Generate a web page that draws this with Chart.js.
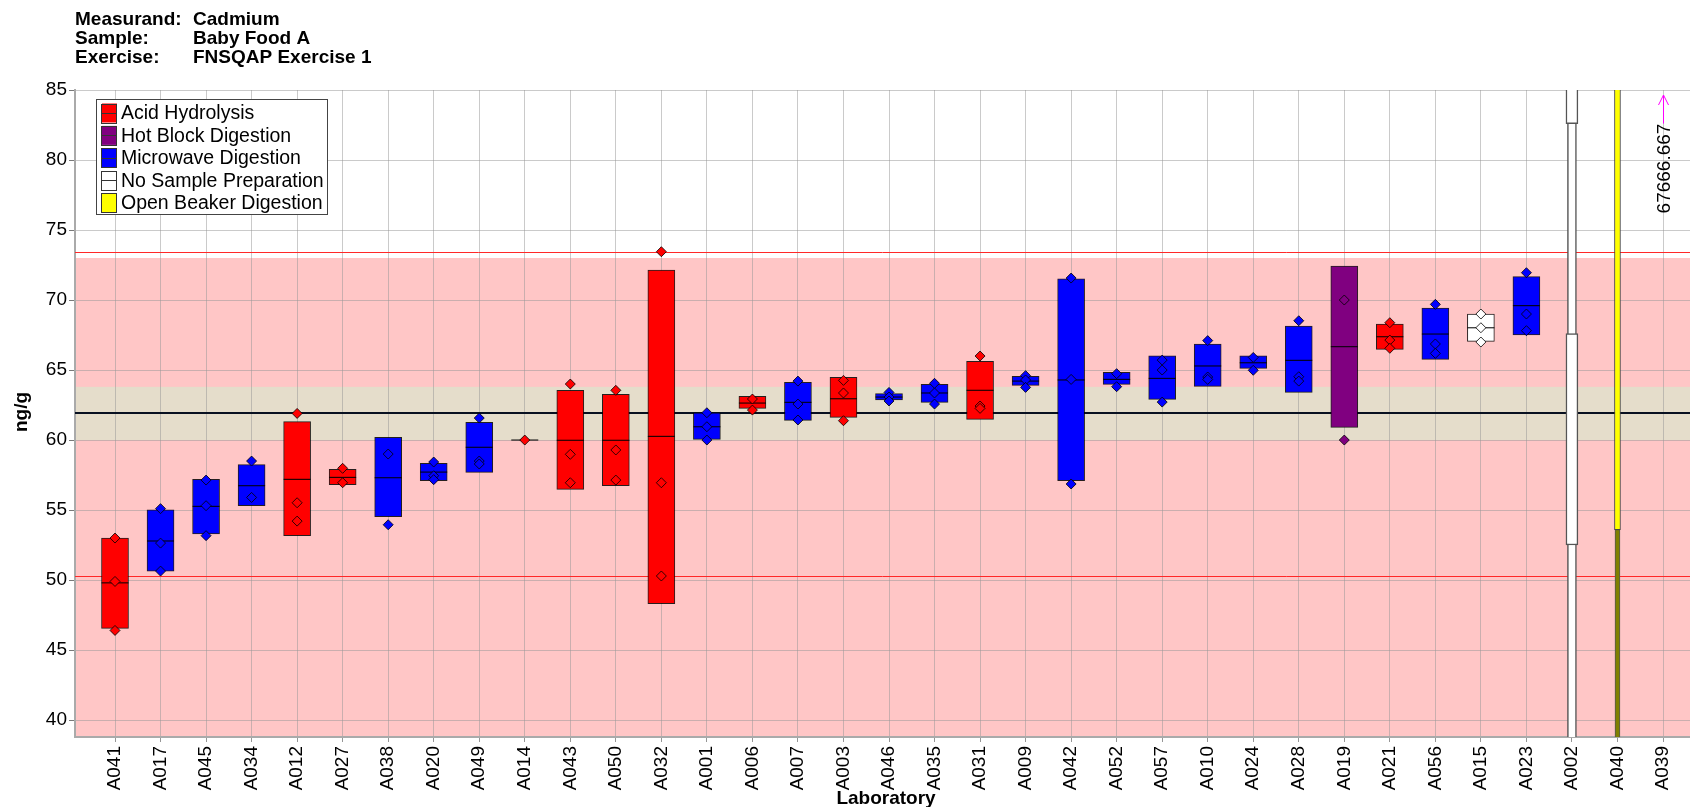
<!DOCTYPE html>
<html>
<head>
<meta charset="utf-8">
<title>Cadmium - Baby Food A</title>
<script src="https://cdn.jsdelivr.net/npm/chart.js@4.4.1/dist/chart.umd.min.js"></script>
<style>
  html, body { margin: 0; padding: 0; background: #fff; overflow: hidden; }
  #labChart { display: block; }
</style>
</head>
<body>
<canvas id="labChart" width="1690" height="807"></canvas>
<script>
///////////////////////////////////////////////////////////////////////
///                           DATA
///////////////////////////////////////////////////////////////////////
const labs = ['A041','A017','A045','A034','A012','A027','A038','A020','A049','A014',
  'A043','A050','A032','A001','A006','A007','A003','A046','A035','A031',
  'A009','A042','A052','A057','A010','A024','A028','A019','A021','A056',
  'A015','A023','A002','A040','A039'];

const methods = ['Acid Hydrolysis','Microwave Digestion','Microwave Digestion','Microwave Digestion','Acid Hydrolysis',
  'Acid Hydrolysis','Microwave Digestion','Microwave Digestion','Microwave Digestion','Acid Hydrolysis',
  'Acid Hydrolysis','Acid Hydrolysis','Acid Hydrolysis','Microwave Digestion','Acid Hydrolysis',
  'Microwave Digestion','Acid Hydrolysis','Microwave Digestion','Microwave Digestion','Acid Hydrolysis',
  'Microwave Digestion','Microwave Digestion','Microwave Digestion','Microwave Digestion','Microwave Digestion',
  'Microwave Digestion','Microwave Digestion','Hot Block Digestion','Acid Hydrolysis','Microwave Digestion',
  'No Sample Preparation','Microwave Digestion','No Sample Preparation','Open Beaker Digestion',null];

const boxLow = [46.55, 50.64, 53.29, 55.31, 53.17, 56.81, 54.52, 57.1, 57.69, 60,
  56.48, 56.74, 48.31, 60.05, 62.26, 61.4, 61.62, 62.86, 62.69, 61.48,
  63.9, 57.09, 63.98, 62.9, 63.83, 65.12, 63.4, 60.9, 66.48, 65.76,
  67.05, 67.5, null, null, null];
const boxHigh = [53.0, 55.02, 57.19, 58.24, 61.31, 57.9, 60.19, 58.33, 61.26, 60,
  63.55, 63.26, 72.14, 61.95, 63.12, 64.12, 64.48, 63.31, 63.98, 65.62,
  64.55, 71.52, 64.83, 66.02, 66.86, 66.02, 68.14, 72.43, 68.29, 69.43,
  69.0, 71.67, null, null, null];
const medians = [49.8, 52.79, 55.26, 56.74, 57.19, 57.33, 57.31, 57.71, 59.48, 60,
  59.98, 59.98, 60.26, 60.95, 62.64, 62.69, 62.95, 63.07, 63.36, 63.55,
  64.21, 64.29, 64.33, 64.4, 65.29, 65.52, 65.69, 66.67, 67.38, 67.57,
  68.02, 69.6, null, null, null];
const results = [
  [53.0, 49.9, 46.4], [55.1, 52.64, 50.64], [57.14, 55.31, 53.17], [58.5, 55.9],
  [61.9, 55.52, 54.21], [57.98, 56.95], [59.0, 53.95], [58.43, 57.45, 57.17],
  [61.57, 58.5, 58.29], [60.0], [64.0, 58.98, 56.95], [63.55, 59.29, 57.14],
  [73.45, 56.95, 50.29], [61.95, 60.95, 60.0], [62.93, 62.14], [64.21, 62.57, 61.43],
  [64.26, 63.36, 61.38], [63.4, 63.07, 62.79], [64.05, 63.36, 62.57], [66.0, 62.43, 62.26],
  [64.6, 64.29, 63.76], [71.57, 64.33, 56.86], [64.74, 63.81], [65.71, 65.0, 62.71],
  [67.1, 64.5, 64.33], [65.9, 64.98], [68.52, 64.52, 64.21], [70.0, 60.0],
  [68.38, 67.14, 66.55], [69.69, 66.86, 66.19], [69.0, 68.02, 67.0], [71.95, 69.0, 67.81],
  [], [], []
];

// labs whose results run off the plotted range
const a002Box = [30, 100];
const a002Wide = [[52.5, 67.6], [82.6, 100]];
const a040Upper = [53.6, 100];
const a040Lower = [30, 53.6];
const offScaleLab = 'A039';
const offScaleValue = '67666.667';

// reference lines
const assignedValue = 61.9;
const tanBand = [60.0, 63.8];
const pinkTop = 73.0;
const limitLines = [50.29, 73.45];

const yTicks = [40, 45, 50, 55, 60, 65, 70, 75, 80, 85];
const yMin = 38.79, yMax = 85;
const xMin = -0.8786, xMax = 34.593;

const methodNames = ['Acid Hydrolysis','Hot Block Digestion','Microwave Digestion','No Sample Preparation','Open Beaker Digestion'];
const methodColors = {
  'Acid Hydrolysis': 'rgb(255,0,0)',
  'Hot Block Digestion': 'rgb(128,0,128)',
  'Microwave Digestion': 'rgb(0,0,255)',
  'No Sample Preparation': 'rgb(255,255,255)',
  'Open Beaker Digestion': 'rgb(255,255,0)'
};

const FONT = '"Liberation Sans", Arial, Helvetica, sans-serif';

///////////////////////////////////////////////////////////////////////
///                           BUILD DATASETS
///////////////////////////////////////////////////////////////////////
const datasets = [];

// one box set per method
for (let m of methodNames) {
  let data = [];
  labs.forEach((lab, i) => {
    if (methods[i] === m && boxLow[i] !== null && boxHigh[i] > boxLow[i]) {
      data.push({x: i, y: [boxLow[i], boxHigh[i]]});
    }
  });
  if (!data.length) continue;
  datasets.push({
    type: 'bar', label: m, data: data,
    backgroundColor: methodColors[m], borderColor: 'rgba(0,0,0,0.85)',
    borderWidth: 1, borderSkipped: false, barThickness: 27, grouped: false, order: 5
  });
}

const iA002 = labs.indexOf('A002');
const iA040 = labs.indexOf('A040');
datasets.push({
  type: 'bar', label: 'A002', data: [{x: iA002, y: a002Box}],
  backgroundColor: '#fff', borderColor: '#555', borderWidth: 1.5, borderSkipped: false,
  barThickness: 9, grouped: false, order: 6
});
datasets.push({
  type: 'bar', label: 'A002 wide', data: a002Wide.map(r => ({x: iA002, y: r})),
  backgroundColor: '#fff', borderColor: '#555', borderWidth: 1.5, borderSkipped: false,
  barThickness: 12, grouped: false, order: 5
});
datasets.push({
  type: 'bar', label: 'A040', data: [{x: iA040, y: a040Upper}],
  backgroundColor: 'rgb(255,255,0)', borderColor: '#444', borderWidth: 1, borderSkipped: false,
  barThickness: 6, grouped: false, order: 5
});
datasets.push({
  type: 'bar', label: 'A040 low', data: [{x: iA040, y: a040Lower}],
  backgroundColor: 'rgb(128,128,0)', borderColor: '#555', borderWidth: 1, borderSkipped: false,
  barThickness: 5, grouped: false, order: 5
});

// medians as short horizontal strokes
datasets.push({
  type: 'line', label: 'median', showLine: false,
  data: medians.map((v, i) => v === null ? null : {x: i, y: v}).filter(p => p),
  pointStyle: 'line', pointRadius: 13.5, pointBorderColor: 'rgba(0,0,0,0.85)',
  pointBorderWidth: 1.2, pointHoverRadius: 13.5, order: 3
});

// individual results as diamonds
for (let m of methodNames) {
  let data = [];
  labs.forEach((lab, i) => {
    if (methods[i] === m) results[i].forEach(v => data.push({x: i, y: v}));
  });
  if (!data.length) continue;
  datasets.push({
    type: 'line', label: m + ' results', showLine: false, data: data,
    pointStyle: 'rectRot', pointRadius: 5, pointHoverRadius: 5,
    pointBackgroundColor: methodColors[m], pointBorderColor: 'rgba(0,0,0,0.8)',
    pointBorderWidth: 1, order: 1
  });
}

///////////////////////////////////////////////////////////////////////
///                           DECORATION PLUGIN
///////////////////////////////////////////////////////////////////////
const decor = {
  id: 'decor',
  beforeDraw(chart) {
    const {ctx, chartArea: a, scales: {y}} = chart;
    ctx.save();
    let top = y.getPixelForValue(pinkTop);
    ctx.fillStyle = 'rgb(255,198,198)';
    ctx.fillRect(a.left, top, a.right - a.left, a.bottom - top);
    let t1 = y.getPixelForValue(tanBand[1]);
    let t0 = y.getPixelForValue(tanBand[0]);
    ctx.fillStyle = 'rgb(229,221,203)';
    ctx.fillRect(a.left, t1, a.right - a.left, t0 - t1);
    ctx.restore();
  },
  beforeDatasetsDraw(chart) {
    const {ctx, chartArea: a, scales: {y}} = chart;
    ctx.save();
    ctx.strokeStyle = 'rgb(255,40,40)';
    ctx.lineWidth = 1;
    for (let v of limitLines) {
      let py = Math.round(y.getPixelForValue(v)) + 0.5;
      ctx.beginPath(); ctx.moveTo(a.left, py); ctx.lineTo(a.right, py); ctx.stroke();
    }
    ctx.strokeStyle = 'rgb(8,16,32)';
    ctx.lineWidth = 2;
    let py = Math.round(y.getPixelForValue(assignedValue));
    ctx.beginPath(); ctx.moveTo(a.left, py); ctx.lineTo(a.right, py); ctx.stroke();
    ctx.restore();
  },
  afterDraw(chart) {
    const {ctx, chartArea: a, scales: {x, y}} = chart;
    ctx.save();

    // header
    ctx.fillStyle = '#000';
    ctx.font = 'bold 19px ' + FONT;
    ctx.textBaseline = 'alphabetic';
    ctx.textAlign = 'left';
    const header = [['Measurand:', 'Cadmium'], ['Sample:', 'Baby Food A'], ['Exercise:', 'FNSQAP Exercise 1']];
    header.forEach((row, k) => {
      ctx.fillText(row[0], 75, 25 + k * 18.8);
      ctx.fillText(row[1], 193, 25 + k * 18.8);
    });

    // axis titles
    ctx.textAlign = 'center';
    ctx.fillText('Laboratory', 886, 804);
    ctx.save();
    ctx.translate(22, 412);
    ctx.rotate(-Math.PI / 2);
    ctx.textBaseline = 'middle';
    ctx.fillText('ng/g', 0, 0);
    ctx.restore();

    // off-scale marker
    let ax = Math.round(x.getPixelForValue(labs.indexOf(offScaleLab))) + 0.5;
    let arrowEnd = y.getPixelForValue(82.6);
    ctx.strokeStyle = 'rgb(255,0,255)';
    ctx.lineWidth = 1;
    ctx.beginPath();
    ctx.moveTo(ax, arrowEnd); ctx.lineTo(ax, a.top + 5);
    ctx.moveTo(ax - 5, a.top + 15); ctx.lineTo(ax, a.top + 5); ctx.lineTo(ax + 5, a.top + 15);
    ctx.stroke();
    ctx.save();
    ctx.translate(ax + 1, arrowEnd);
    ctx.rotate(-Math.PI / 2);
    ctx.font = '19px ' + FONT;
    ctx.fillStyle = '#000';
    ctx.textAlign = 'right';
    ctx.textBaseline = 'middle';
    ctx.fillText(offScaleValue, 0, 0);
    ctx.restore();

    // legend
    const lx = 96, ly = 99, lw = 231, lh = 115;
    ctx.fillStyle = '#fff';
    ctx.fillRect(lx, ly, lw, lh);
    ctx.strokeStyle = '#444';
    ctx.lineWidth = 1;
    ctx.strokeRect(lx + 0.5, ly + 0.5, lw, lh);
    ctx.font = '19.5px ' + FONT;
    ctx.textAlign = 'left';
    ctx.textBaseline = 'middle';
    methodNames.forEach((m, k) => {
      let cy = 113 + k * 22.4;
      ctx.fillStyle = methodColors[m];
      ctx.fillRect(102, cy - 9.5, 15, 19);
      ctx.strokeStyle = '#333';
      ctx.strokeRect(101.5, Math.round(cy - 9.5) + 0.5, 15, 19);
      if (m !== 'Open Beaker Digestion') {
        ctx.beginPath();
        ctx.moveTo(102, Math.round(cy) + 0.5);
        ctx.lineTo(117, Math.round(cy) + 0.5);
        ctx.stroke();
      }
      ctx.fillStyle = '#000';
      ctx.fillText(m, 121, cy + 1);
    });
    ctx.restore();
  }
};

///////////////////////////////////////////////////////////////////////
///                           CREATE CHART
///////////////////////////////////////////////////////////////////////
Chart.defaults.font.family = FONT;
Chart.defaults.font.size = 19;
Chart.defaults.color = '#000';

const config = {
  type: 'bar',
  data: {datasets: datasets},
  options: {
    responsive: false,
    devicePixelRatio: 1,
    animation: false,
    layout: {autoPadding: false, padding: {top: 90, left: 0, right: 0, bottom: 0}},
    plugins: {legend: {display: false}, tooltip: {enabled: false}},
    scales: {
      x: {
        type: 'linear',
        min: xMin, max: xMax,
        offset: false,
        grid: {color: 'rgba(150,150,150,0.5)', offset: false, tickLength: 5, tickColor: 'rgb(150,150,150)'},
        border: {color: 'rgb(170,170,170)', width: 2},
        ticks: {
          autoSkip: false, minRotation: 90, maxRotation: 90, padding: 4,
          font: {size: 19},
          callback: (v) => labs[v]
        },
        afterBuildTicks: (scale) => { scale.ticks = labs.map((_, i) => ({value: i})); },
        afterFit: (scale) => {
          scale.height = 70;
          scale.paddingLeft = 0;
          scale.paddingRight = 0;
        }
      },
      y: {
        type: 'linear',
        min: yMin, max: yMax,
        grid: {color: 'rgba(150,150,150,0.5)', tickLength: 6, tickColor: 'rgb(120,120,120)'},
        border: {color: 'rgb(170,170,170)', width: 2},
        ticks: {padding: 2, font: {size: 19}},
        afterBuildTicks: (scale) => { scale.ticks = yTicks.map(v => ({value: v})); },
        afterFit: (scale) => {
          scale.width = 75;
          scale.paddingTop = 0;
          scale.paddingBottom = 0;
        }
      }
    }
  },
  plugins: [decor]
};

const labChart = new Chart(document.getElementById('labChart'), config);
</script>
</body>
</html>
